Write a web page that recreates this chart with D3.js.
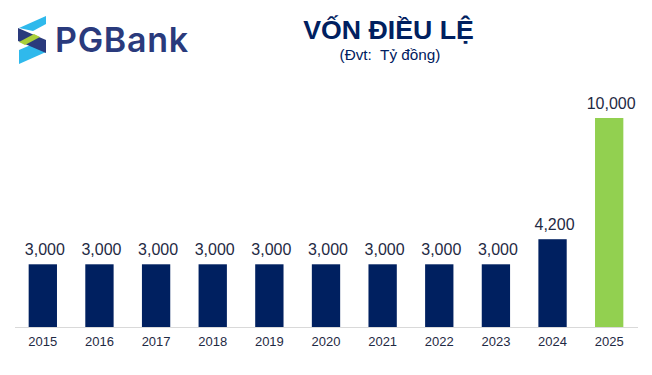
<!DOCTYPE html>
<html>
<head>
<meta charset="utf-8">
<script src="https://cdn.jsdelivr.net/npm/d3@7"></script>
<style>
	html, body { margin: 0; padding: 0; background: #fff; overflow: hidden; }
</style>
</head>
<body>
<script>
const years = ["2015", "2016", "2017", "2018", "2019", "2020", "2021", "2022", "2023", "2024", "2025"];
const capital = [3000, 3000, 3000, 3000, 3000, 3000, 3000, 3000, 3000, 4200, 10000];

const width = 652;
const height = 375;
const font = "Liberation Sans, Arial, sans-serif";

const svg = d3.select("body").append("svg")
	.attr("width", width)
	.attr("height", height)
	.style("display", "block");

const x = d3.scaleBand()
	.domain(years)
	.range([14.5, 637.5])
	.paddingInner(0.5)
	.paddingOuter(0.25);

const y = d3.scaleLinear()
	.domain([0, 10000])
	.range([327, 118]);

// logo
const logo = svg.append("g");
logo.append("path").attr("fill", "#2fb9ec").attr("d", "M19 28 L46 16 L46 24 L33 31 Z");
logo.append("path").attr("fill", "#2fb9ec").attr("d", "M19 50 L33 44 L46 52 L19 64 Z");
logo.append("path").attr("fill", "#2a3a7c").attr("d", "M18 28 L46 40 L46 53 L18 41 Z");
logo.append("path").attr("fill", "#a9cf3a").attr("d", "M19 42 L34 34 L40 37 L25 45 Z");
logo.append("text")
	.attr("x", 55)
	.attr("y", 52)
	.attr("font-family", "Inter, " + font)
	.attr("font-size", 34)
	.attr("font-weight", 600)
	.attr("letter-spacing", 0.7)
	.attr("fill", "#2a3a7c")
	.text("PGBank");

svg.append("text")
	.attr("x", 388.5)
	.attr("y", 39)
	.attr("text-anchor", "middle")
	.attr("font-family", font)
	.attr("font-size", 26.7)
	.attr("font-weight", "bold")
	.attr("fill", "#002060")
	.text("VỐN ĐIỀU LỆ");

svg.append("text")
	.attr("x", 390)
	.attr("y", 60)
	.attr("text-anchor", "middle")
	.attr("font-family", font)
	.attr("font-size", 15.3)
	.attr("fill", "#002060")
	.style("white-space", "pre")
	.text("(Đvt:  Tỷ đồng)");

svg.selectAll("rect.bar")
	.data(capital)
	.join("rect")
	.attr("class", "bar")
	.attr("x", (d, i) => x(years[i]))
	.attr("y", d => y(d))
	.attr("width", x.bandwidth())
	.attr("height", d => y(0) - y(d))
	.attr("fill", (d, i) => years[i] === "2025" ? "#92d050" : "#002060");

svg.selectAll("text.value")
	.data(capital)
	.join("text")
	.attr("class", "value")
	.attr("x", (d, i) => x(years[i]) + x.bandwidth() / 2 + 2)
	.attr("y", d => y(d) - 9.5)
	.attr("text-anchor", "middle")
	.attr("font-family", font)
	.attr("font-size", 16)
	.attr("fill", "#1f2a44")
	.text(d => d3.format(",")(d));

const axis = svg.append("g")
	.attr("transform", `translate(0,${y(0)})`)
	.call(d3.axisBottom(x).tickSize(0).tickPadding(10));

axis.select(".domain").attr("stroke", "#d9d9d9").attr("stroke-width", 1);
axis.selectAll("text")
	.attr("font-family", font)
	.attr("font-size", 13)
	.attr("fill", "#1f2a44");
</script>
</body>
</html>
